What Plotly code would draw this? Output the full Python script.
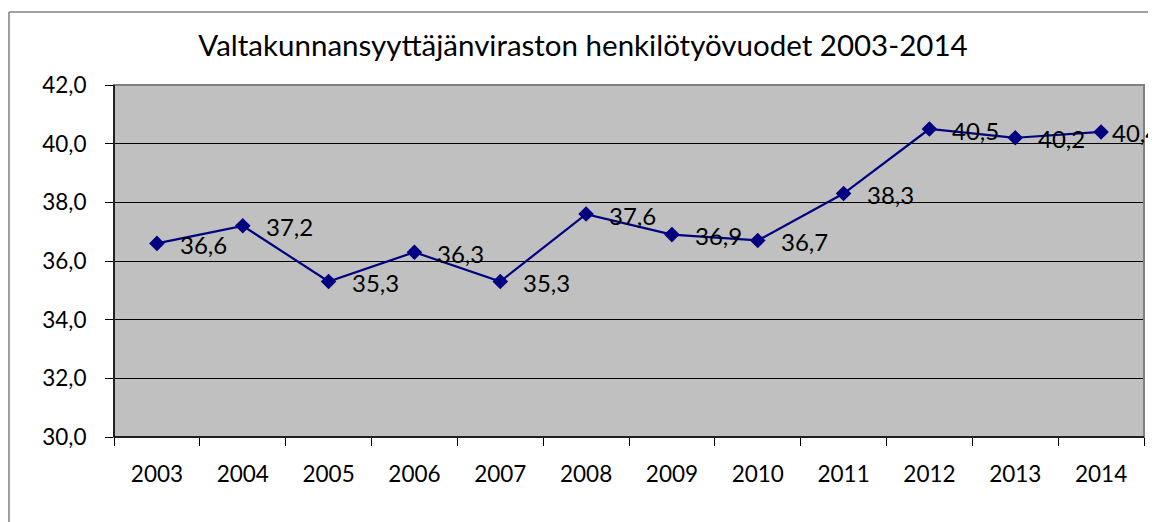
import plotly.graph_objects as go

years = ["2003", "2004", "2005", "2006", "2007", "2008", "2009", "2010", "2011", "2012", "2013", "2014"]
values = [36.6, 37.2, 35.3, 36.3, 35.3, 37.6, 36.9, 36.7, 38.3, 40.5, 40.2, 40.4]
labels = [f"{v:.1f}".replace(".", ",") for v in values]
ytick_vals = [30, 32, 34, 36, 38, 40, 42]
ytick_text = [f"{v:.1f}".replace(".", ",") for v in ytick_vals]
title_text = "Valtakunnansyyttäjänviraston henkilötyövuodet 2003-2014"

FONT = "Lato, Open Sans, sans-serif"
OFF = 8  # default page body margin
W, H = 1156 - OFF, 522 - OFF
L, R, T, B = 114 - OFF, 12, 85 - OFF, 85
pw, ph = W - L - R, H - T - B

fig = go.Figure()
fig.add_trace(go.Scatter(
    x=years, y=values, mode="lines+markers",
    line=dict(color="#000080", width=2.2),
    marker=dict(symbol="diamond", size=12, color="#000080"),
    hoverinfo="x+y", showlegend=False, cliponaxis=False,
))

n = len(values)
for i, (yv, t) in enumerate(zip(values, labels)):
    fig.add_annotation(x=i, y=yv, text=t, showarrow=False,
                       xanchor="left", yanchor="middle",
                       xshift=(9 if i == n - 1 else 21), yshift=-1,
                       font=dict(family=FONT, size=24, color="#000000"))

fx = lambda px: (px - OFF - L) / pw
fy = lambda py: (H - B - (py - OFF)) / ph

shapes = [
    dict(type="rect", xref="paper", yref="paper", x0=0, x1=1, y0=0, y1=1,
         line=dict(color="#808080", width=2), layer="above"),
    dict(type="line", xref="paper", yref="paper", x0=0, x1=0, y0=0, y1=1,
         line=dict(color="#000000", width=1.5), layer="above"),
    dict(type="line", xref="paper", yref="paper", x0=0, x1=1, y0=0, y1=0,
         line=dict(color="#000000", width=1.5), layer="above"),
    dict(type="line", xref="paper", yref="paper", x0=fx(9), x1=fx(9), y0=fy(12), y1=fy(530),
         line=dict(color="#808080", width=1.5)),
    dict(type="line", xref="paper", yref="paper", x0=fx(9), x1=fx(1170), y0=fy(12), y1=fy(12),
         line=dict(color="#808080", width=1.5)),
]

fig.update_layout(
    width=W, height=H,
    margin=dict(l=L, r=R, t=T, b=B),
    paper_bgcolor="#FFFFFF",
    plot_bgcolor="#C0C0C0",
    title=dict(text=title_text, x=(583 - OFF) / W, xanchor="center", y=1 - (46 - OFF) / H,
               yanchor="middle", font=dict(family=FONT, size=29.5, color="#000000")),
    xaxis=dict(type="category", range=[-0.5, len(years) - 0.5], autorange=False,
               tickson="boundaries", ticks="outside", ticklen=8, automargin=False,
               tickcolor="#000000", tickwidth=1, showgrid=False, showline=False, tickangle=0,
               tickfont=dict(family=FONT, size=22.5, color="#000000"), ticklabelstandoff=21),
    yaxis=dict(range=[30, 42], autorange=False, tickvals=ytick_vals, ticktext=ytick_text,
               ticks="outside", ticklen=8, tickcolor="#000000", tickwidth=1, automargin=False,
               showgrid=True, gridcolor="#000000", gridwidth=1, zeroline=False,
               showline=False, tickfont=dict(family=FONT, size=22.5, color="#000000"),
               ticklabelstandoff=14),
    shapes=shapes,
)

fig.write_html("out.html")
